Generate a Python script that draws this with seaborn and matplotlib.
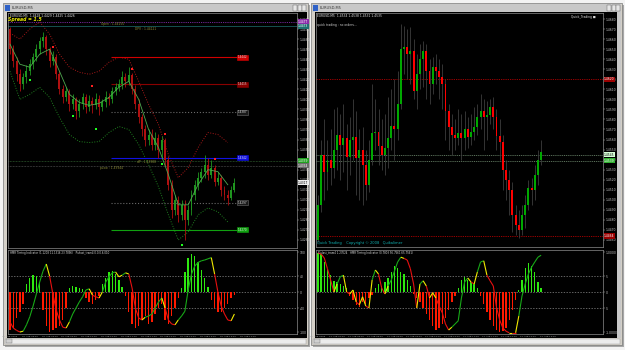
import numpy as np
import pandas as pd
import matplotlib
matplotlib.use("Agg")
import matplotlib.pyplot as plt
import seaborn as sns
from matplotlib.collections import LineCollection
from matplotlib.patches import Rectangle

plt.rcParams['font.family'] = ['DejaVu Sans']

# ---------------- DATA : left chart (EURUSD M5, day 1) ----------------
first_open_L = 1.4470
close_L = [1.4450,1.4438,1.4425,1.4415,1.4422,1.4428,1.4435,1.4442,1.4450,1.4458,
           1.4462,1.4450,1.4438,1.4442,1.4425,1.4410,1.4402,1.4408,1.4395,1.4400,
           1.4388,1.4395,1.4402,1.4392,1.4398,1.4394,1.4400,1.4392,1.4397,1.4402,
           1.4400,1.4408,1.4412,1.4415,1.4422,1.4418,1.4424,1.4410,1.4395,1.4382,
           1.4370,1.4360,1.4365,1.4355,1.4362,1.4350,1.4360,1.4340,1.4315,1.4290,
           1.4300,1.4285,1.4295,1.4280,1.4290,1.4305,1.4315,1.4322,1.4328,1.4335,
           1.4325,1.4332,1.4318,1.4322,1.4310,1.4305,1.4302,1.4310,1.4317]
high_L = [1.4472,1.4454,1.4442,1.4430,1.4426,1.4434,1.4440,1.4446,1.4455,1.4462,
          1.4467,1.4464,1.4452,1.4448,1.4445,1.4428,1.4414,1.4412,1.4410,1.4405,
          1.4402,1.4400,1.4406,1.4405,1.4404,1.4402,1.4406,1.4404,1.4400,1.4408,
          1.4406,1.4412,1.4416,1.4420,1.4428,1.4426,1.4432,1.4426,1.4414,1.4400,
          1.4385,1.4374,1.4370,1.4370,1.4368,1.4366,1.4364,1.4362,1.4344,1.4320,
          1.4305,1.4304,1.4300,1.4300,1.4295,1.4310,1.4320,1.4328,1.4332,1.4345,
          1.4342,1.4340,1.4335,1.4328,1.4325,1.4314,1.4310,1.4314,1.4322]
low_L = [1.4445,1.4432,1.4418,1.4408,1.4410,1.4416,1.4424,1.4430,1.4438,1.4445,
         1.4452,1.4444,1.4432,1.4434,1.4420,1.4405,1.4396,1.4398,1.4388,1.4390,
         1.4380,1.4382,1.4390,1.4386,1.4388,1.4386,1.4390,1.4384,1.4388,1.4392,
         1.4394,1.4396,1.4404,1.4408,1.4410,1.4412,1.4414,1.4405,1.4390,1.4376,
         1.4364,1.4354,1.4355,1.4350,1.4350,1.4342,1.4342,1.4334,1.4310,1.4282,
         1.4285,1.4278,1.4280,1.4260,1.4275,1.4285,1.4300,1.4310,1.4318,1.4322,
         1.4320,1.4322,1.4314,1.4315,1.4304,1.4300,1.4295,1.4300,1.4308]

band_idx_L = list(range(0, 67, 3))
band_up_L = [1.4466,1.4460,1.4470,1.4477,1.4465,1.4445,1.4432,1.4427,1.4425,1.4428,1.4437,1.4442,
             1.4440,1.4418,1.4395,1.4375,1.4345,1.4322,1.4332,1.4352,1.4367,1.4365,1.4357]
band_dn_L = [1.4428,1.4400,1.4405,1.4412,1.4402,1.4382,1.4365,1.4358,1.4357,1.4358,1.4367,1.4373,
             1.4370,1.4355,1.4335,1.4313,1.4285,1.4260,1.4268,1.4285,1.4292,1.4288,1.4278]
band_ma_L = [1.4455,1.4435,1.4432,1.4445,1.4450,1.4428,1.4405,1.4397,1.4394,1.4396,1.4402,1.4412,
             1.4418,1.4400,1.4370,1.4352,1.4325,1.4295,1.4295,1.4315,1.4330,1.4328,1.4315]

buy_idx_L = [6, 19, 26, 46, 52]
buy_px_L = [1.4419, 1.4383, 1.4370, 1.4336, 1.4255]
sell_idx_L = [13, 25, 37, 47, 62]
sell_px_L = [1.4452, 1.4413, 1.4430, 1.4366, 1.4341]

level_px_L = [1.4442, 1.4415, 1.4387, 1.4342, 1.4297, 1.4270]
level_col_L = ['#d00000', '#8a0000', '#6a6a6a', '#1010e0', '#6a6a6a', '#10a010']
level_ls_L = ['-', '-', ':', '-', ':', '-']
open_px_L = 1.4477
dpv_px_L = 1.4473
pivot_px_L = [1.4339, 1.4334]

hist_L = [-95,-90,-65,-50,-30, 20,35,42,40,25,
          -45,-85,-100,-95,-90,-85,-70,-40, 10,15,12,10,8,
          -15,-25,-30,-20,-10, 20,35,50,52,45,30,12,
          -10,-50,-80,-90,-85,-70,-60,-80,-75,-55,-40,-30,-70,-80,-60,-40,-15,
          10,50,85,95,90,75,55,35,12, -20,-40,-50,-50,-40,-30,-15, -8]
osc_L = [-75,-90,-96,-100,-98,-82,-62,-35,-5,25,
         52,70,40,-5,-45,-70,-88,-90,-75,-55,
         -40,-25,-12,5,8,-8,-12,-15,0,25,
         38,48,50,38,42,48,45,10,-40,-65,
         -70,-63,-60,-55,-40,-25,-15,-40,-70,-80,
         -82,-70,-60,-48,5,45,65,74,78,80,
         83,86,45,0,-35,-55,-70,-72,-55]
time_L = ['20 Aug 2008', '20 Aug 08:30', '20 Aug 09:00', '20 Aug 09:30', '20 Aug 10:00',
          '20 Aug 10:30', '20 Aug 11:00', '20 Aug 11:30', '20 Aug 12:00', '20 Aug 12:30',
          '20 Aug 13:00', '20 Aug 13:30', '20 Aug 14:00']

# ---------------- DATA : right chart (EURUSD M5, day 2) ----------------
first_open_R = 1.4460
close_R = [1.4495,1.4545,1.4528,1.4540,1.4532,1.4550,1.4565,1.4555,1.4562,1.4543,
           1.4560,1.4563,1.4542,1.4550,1.4535,1.4515,1.4540,1.4567,1.4568,1.4554,
           1.4545,1.4552,1.4562,1.4573,1.4570,1.4595,1.4650,1.4652,1.4645,1.4648,
           1.4608,1.4625,1.4640,1.4648,1.4628,1.4615,1.4632,1.4628,1.4622,1.4615,
           1.4588,1.4572,1.4565,1.4562,1.4567,1.4562,1.4570,1.4563,1.4568,1.4572,
           1.4582,1.4588,1.4582,1.4584,1.4592,1.4582,1.4564,1.4558,1.4530,1.4520,
           1.4510,1.4485,1.4475,1.4470,1.4485,1.4495,1.4512,1.4510,1.4525,1.4540,1.4548]
high_R = [1.4505,1.4560,1.4580,1.4560,1.4570,1.4590,1.4592,1.4585,1.4595,1.4575,
          1.4582,1.4600,1.4588,1.4570,1.4572,1.4550,1.4560,1.4615,1.4600,1.4590,
          1.4580,1.4585,1.4602,1.4610,1.4620,1.4628,1.4675,1.4673,1.4670,1.4672,
          1.4660,1.4645,1.4655,1.4658,1.4655,1.4640,1.4642,1.4645,1.4640,1.4635,
          1.4620,1.4595,1.4585,1.4580,1.4590,1.4585,1.4588,1.4582,1.4585,1.4592,
          1.4595,1.4605,1.4600,1.4598,1.4600,1.4602,1.4590,1.4580,1.4565,1.4540,
          1.4530,1.4518,1.4495,1.4490,1.4495,1.4505,1.4520,1.4522,1.4535,1.4550,1.4560]
low_R = [1.4458,1.4488,1.4500,1.4510,1.4515,1.4522,1.4530,1.4520,1.4528,1.4510,
         1.4525,1.4540,1.4505,1.4500,1.4495,1.4500,1.4508,1.4535,1.4550,1.4535,
         1.4530,1.4525,1.4532,1.4550,1.4540,1.4560,1.4590,1.4625,1.4620,1.4615,
         1.4600,1.4590,1.4610,1.4612,1.4600,1.4595,1.4605,1.4615,1.4600,1.4590,
         1.4560,1.4550,1.4545,1.4550,1.4555,1.4540,1.4550,1.4552,1.4555,1.4560,
         1.4565,1.4570,1.4550,1.4560,1.4575,1.4570,1.4550,1.4540,1.4510,1.4500,
         1.4485,1.4468,1.4465,1.4462,1.4465,1.4472,1.4490,1.4495,1.4500,1.4515,1.4535]
level_px_R = [1.4620, 1.4464]
pivot_px_R = [1.4545, 1.4539]

hist_R = [97,95,75,55,42,28,25,20,15,10,
          -10,-20,-32,-38,-25,-30,-15,-8,
          10,20,15,25,35,50,65,60,50,45,30,15,
          -5,-15,-25,-40,-55,-70,-85,-95,-90,-80,-65,-45,-25,-10,
          10,30,37,30,25,20,10,
          -10,-30,-50,-70,-85,-95,-100,-98,-90,-70,-45,-20,
          5,30,60,72,65,50,25,10]
osc_R = [97,95,85,58,30,0,20,38,42,0,
         -5,5,-25,-32,-12,-35,-40,30,55,45,
         10,-5,15,30,52,75,87,84,80,58,
         20,-40,20,28,15,-15,-2,-15,-35,-52,
         -80,-95,-88,-80,-72,-15,25,35,25,20,
         50,75,78,42,28,15,-38,-70,-90,-98,
         -102,-102,-102,-60,-10,20,45,62,75,87,92]
time_R = ['21 Aug 2008', '21 Aug 07:30', '21 Aug 08:00', '21 Aug 08:30', '21 Aug 09:00',
          '21 Aug 09:30', '21 Aug 10:00', '21 Aug 10:30', '21 Aug 11:00', '21 Aug 11:30',
          '21 Aug 12:00', '21 Aug 12:30', '21 Aug 13:00']

# ---------------- FIGURE ----------------
W, H = 625, 350
fig = plt.figure(figsize=(6.25, 3.5), dpi=100)
fig.patch.set_facecolor('#f3f3f3')


def pax(x0, y0, x1, y1):
    return fig.add_axes([x0 / W, 1 - y1 / H, (x1 - x0) / W, (y1 - y0) / H])


bg = pax(0, 0, W, H)
bg.set_xlim(0, W)
bg.set_ylim(H, 0)
bg.axis('off')


def rect(x0, y0, x1, y1, fc, ec='none', lw=0.0, z=1):
    bg.add_patch(Rectangle((x0, y0), x1 - x0, y1 - y0, fc=fc, ec=ec, lw=lw, zorder=z))


for wx0, wx1, bx0, bx1 in [(3, 308, 7, 307), (311, 622, 315, 617)]:
    rect(wx0 + 2, 5, wx1 + 2, 347, '#a8a8a8', z=0)
    rect(wx0, 3, wx1, 345, '#d4d0c8', ec='#7a7a7a', lw=0.5)
    rect(wx0 + 1, 4, wx1 - 1, 12, '#c8c8c8')
    rect(wx0 + 2, 5, wx0 + 7, 11, '#2f62c8', z=2)
    bg.text(wx0 + 9, 8.2, 'EURUSD,M5', fontsize=2.6, color='#3a3a3a', va='center', zorder=3)
    for k in range(3):
        bx = wx1 - 15 + k * 4.6
        rect(bx, 5, bx + 4, 11, '#e6e6e6', ec='#5a5a5a', lw=0.3, z=2)
    rect(bx0, 12, bx1, 338, '#000000', z=2)
    rect(wx0 + 2, 338.5, wx1 - 2, 344, '#ececec', ec='#9a9a9a', lw=0.3, z=2)
    rect(wx0 + 3, 339.2, wx0 + 9, 343.3, '#d0d0d0', ec='#707070', lw=0.3, z=3)
rect(617, 12, 621, 338, '#c8c8c8', z=2)

axL = pax(8, 13, 297, 248)
axLi = pax(8, 250, 297, 334)
axR = pax(316, 13, 603, 247)
axRi = pax(316, 250, 603, 334)

xlimL = (-0.6, 86.97)
xlimR = (-0.6, 89.4)


def style(ax, xlim, ylim):
    ax.set_facecolor('black')
    ax.set_xlim(*xlim)
    ax.set_ylim(*ylim)
    for s in ax.spines.values():
        s.set_color('#8c8c8c')
        s.set_linewidth(0.5)
    ax.grid(False)
    ax.set_xlabel('')
    ax.set_ylabel('')
    ax.yaxis.tick_right()
    ax.tick_params(axis='y', labelsize=2.2, colors='#c8c8c8', length=1.2, width=0.3,
                   pad=0.6, left=False, right=True)


def candles(ax, first_open, close, high, low, up, dn, wick=None):
    c = np.asarray(close)
    o = np.concatenate([[first_open], c[:-1]])
    idx = np.arange(len(c))
    bull = c >= o
    cols = [up if b else dn for b in bull]
    wcols = cols if wick is None else [wick] * len(c)
    ax.vlines(idx, low, high, colors=wcols, lw=0.6, zorder=3)
    body = np.maximum(np.abs(c - o), 0.00008)
    ax.bar(idx, body, bottom=np.minimum(o, c), width=0.6, color=cols, lw=0, zorder=4)


def osc_line(ax, vals):
    v = np.asarray(vals, float)
    x = np.arange(len(v))
    segs = [[(x[k], v[k]), (x[k + 1], v[k + 1])] for k in range(len(v) - 1)]
    d = np.diff(v)
    cols = []
    for k in range(len(d)):
        s = np.sign(d[k])
        sp = np.sign(d[k - 1]) if k > 0 else s
        if sp != s:
            cols.append('#f0e800')
        else:
            cols.append('#18a818' if s > 0 else '#e81010')
    ax.add_collection(LineCollection(segs, colors=cols, linewidths=0.8, zorder=5))


def histo(ax, vals):
    df = pd.DataFrame({'i': np.arange(len(vals)), 'v': vals})
    df['s'] = np.where(df['v'] >= 0, 'up', 'dn')
    sns.barplot(data=df, x='i', y='v', hue='s', palette={'up': '#2ee810', 'dn': '#ff1a00'},
                native_scale=True, width=0.42, dodge=False, errorbar=None, legend=False,
                saturation=1, linewidth=0, ax=ax, zorder=2)


def scale_box(ax, y, txt, fc, tc):
    ax.text(1.004, y, txt, transform=ax.get_yaxis_transform(), fontsize=2.2, color=tc,
            ha='left', va='center', clip_on=False, zorder=6,
            bbox=dict(boxstyle='square,pad=0.18', fc=fc, ec='none'))


# ---------- left main ----------
candles(axL, first_open_L, close_L, high_L, low_L, '#1f951f', '#b01010')
sns.lineplot(x=band_idx_L, y=band_up_L, ax=axL, color='#a81818', lw=0.7,
             linestyle=(0, (1, 1.6)), legend=False, zorder=2)
sns.lineplot(x=band_idx_L, y=band_dn_L, ax=axL, color='#1f801f', lw=0.7,
             linestyle=(0, (1, 1.6)), legend=False, zorder=2)
sns.lineplot(x=band_idx_L, y=band_ma_L, ax=axL, color='#4fa84f', lw=0.6, legend=False, zorder=5)
sns.scatterplot(x=buy_idx_L, y=buy_px_L, ax=axL, color='#20ff20', marker='s', s=2.5,
                linewidth=0, zorder=6, legend=False)
sns.scatterplot(x=sell_idx_L, y=sell_px_L, ax=axL, color='#ff2020', marker='s', s=2.5,
                linewidth=0, zorder=6, legend=False)
axL.hlines(level_px_L, 30.5, 72.1, colors=level_col_L, linestyles=level_ls_L, lw=0.8, zorder=2)
for p, ccol in zip(level_px_L, level_col_L):
    axL.text(70.5, p, f'{p:.4f}', fontsize=2.0, color='#e0e0e0', ha='center', va='center', zorder=7,
             bbox=dict(boxstyle='square,pad=0.2', fc=ccol if ccol != '#6a6a6a' else '#1a1a1a',
                       ec=ccol, lw=0.4))
axL.axhline(open_px_L, color='#9a30c8', lw=0.6, ls=(0, (1, 1.2)), zorder=2)
axL.axhline(dpv_px_L, color='#1f7070', lw=0.5, zorder=2)
axL.axhline(pivot_px_L[0], color='#3d7a3d', lw=0.5, ls=(0, (1, 1.2)), zorder=2)
axL.axhline(pivot_px_L[1], color='#666666', lw=0.5, ls=(0, (1, 1.2)), zorder=2)
axL.text(27.5, 1.44755, 'Open : 1.44150', fontsize=2.2, color='#8c8c38', va='center', zorder=6)
axL.text(38.0, 1.44705, 'DPV : 1.44121', fontsize=2.2, color='#8c8c38', va='center', zorder=6)
axL.text(27.3, 1.43315, 'pLow : 1.43944', fontsize=2.2, color='#8c8c38', va='center', zorder=6)
axL.text(38.5, 1.43375, 'dP : 1.43988', fontsize=2.2, color='#8c8c38', va='center', zorder=6)
axL.text(0.006, 0.997, 'EURUSD,M5  1.4428 1.4429 1.4425 1.4426', transform=axL.transAxes,
         fontsize=2.2, color='#e8e8e8', va='top', zorder=7)
axL.text(0.0, 0.983, 'Spread = 1.5', transform=axL.transAxes, fontsize=3.3, color='#e8e800',
         fontweight='bold', fontstyle='italic', va='top', zorder=7)
style(axL, xlimL, (1.4252, 1.4486))
axL.set_xticks([])
axL.set_yticks(np.round(np.arange(1.4260, 1.4486, 0.001), 4))
axL.yaxis.set_major_formatter(matplotlib.ticker.FormatStrFormatter('%.4f'))
scale_box(axL, open_px_L, f'{open_px_L:.4f}', '#8a2aa8', '#ffffff')
scale_box(axL, dpv_px_L, f'{dpv_px_L:.4f}', '#1f7070', '#ffffff')
scale_box(axL, pivot_px_L[0], f'{pivot_px_L[0]:.4f}', '#20a020', '#ffffff')
scale_box(axL, pivot_px_L[1], f'{pivot_px_L[1]:.4f}', '#6a6a6a', '#ffffff')
scale_box(axL, close_L[-1], f'{close_L[-1]:.4f}', '#f0f0f0', '#000000')

# ---------- right main ----------
candles(axR, first_open_R, close_R, high_R, low_R, '#00a800', '#ff0000', wick='#3c3c3c')
for p in level_px_R:
    axR.axhline(p, color='#b00000', lw=0.6, ls=(0, (1.5, 1.2)), zorder=2)
for p in pivot_px_R:
    axR.axhline(p, color='#7e9e7e', lw=0.5, ls=(0, (1.5, 1.2)), zorder=2)
axR.text(0.004, 0.997, 'EURUSD,M5  1.4534 1.4538 1.4531 1.4535', transform=axR.transAxes,
         fontsize=2.2, color='#e8e8e8', va='top', zorder=7)
axR.text(0.004, 0.958, 'quick trading : no orders...', transform=axR.transAxes,
         fontsize=2.2, color='#cfcfcf', va='top', zorder=7)
axR.text(0.975, 0.99, 'Quick_Trading \u25a0', transform=axR.transAxes, fontsize=2.2,
         color='#dddddd', ha='right', va='top', zorder=7)
axR.text(0.004, 0.01, 'Quick Trading    Copyright \u00a9 2008   Quikalimer', transform=axR.transAxes,
         fontsize=2.6, color='#10b0b0', va='bottom', zorder=7)
style(axR, xlimR, (1.4453, 1.4686))
axR.set_xticks([])
axR.set_yticks(np.round(np.arange(1.4460, 1.4686, 0.001), 4))
axR.yaxis.set_major_formatter(matplotlib.ticker.FormatStrFormatter('%.4f'))
scale_box(axR, level_px_R[0], f'{level_px_R[0]:.4f}', '#9a0000', '#ffffff')
scale_box(axR, pivot_px_R[0], f'{pivot_px_R[0]:.4f}', '#d8ffd8', '#000000')
scale_box(axR, pivot_px_R[1], f'{pivot_px_R[1]:.4f}', '#30b030', '#ffffff')
scale_box(axR, level_px_R[1], f'{level_px_R[1]:.4f}', '#9a0000', '#ffffff')

# ---------- indicators ----------
for ax, hist, osc, xl, times, ylabels, title in [
        (axLi, hist_L, osc_L, xlimL, time_L, ['100', '40', '0', '-40', '-100'],
         'HMR Timing Indicator (1.1208 11.1316 23.7896)   Pivlast_tram4 0.0.0.6.010'),
        (axRi, hist_R, osc_R, xlimR, time_R, ['1.0000', '5', '0', '-5', '-1.0000'],
         'Pivlast_tram4 1.27624   HMR Timing Indicator (0.7803 56.7561 65.7561)')]:
    histo(ax, hist)
    osc_line(ax, osc)
    for lv in (40, 0, -40):
        ax.axhline(lv, color='#8a8a8a', lw=0.5, ls=(0, (2, 2)), zorder=1)
    style(ax, xl, (-105, 105))
    ax.set_yticks([100, 40, 0, -40, -100])
    ax.set_yticklabels(ylabels)
    ax.set_xticks(list(range(0, 6 * len(times), 6)))
    ax.set_xticklabels(times)
    ax.tick_params(axis='x', labelsize=1.7, colors='#a8a8a8', length=1.0, width=0.3, pad=0.4)
    ax.text(0.008, 0.985, title, transform=ax.transAxes, fontsize=1.9, color='#d8d8d8',
            va='top', zorder=7)

fig.savefig('out.png', dpi=100, facecolor=fig.get_facecolor())
